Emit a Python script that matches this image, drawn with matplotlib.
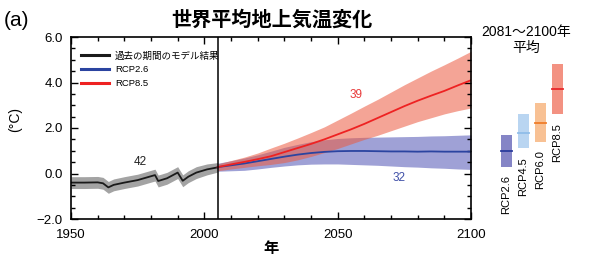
import matplotlib
matplotlib.use("Agg")
import matplotlib.pyplot as plt
from matplotlib.ticker import MultipleLocator

plt.rcParams['font.family'] = ['Liberation Sans', 'Noto Sans CJK JP', 'DejaVu Sans']

# ---- data ----
hist_years = [1950, 1955, 1960, 1962, 1964, 1966, 1970, 1975, 1980, 1981.5, 1982.7,
              1986, 1990, 1991.9, 1994, 1997, 2001, 2005]
hist_mean = [-0.40, -0.40, -0.39, -0.43, -0.61, -0.50, -0.40, -0.29, -0.12, -0.07, -0.33,
             -0.21, 0.04, -0.32, -0.14, 0.04, 0.18, 0.27]
hist_upper = [-0.14, -0.14, -0.13, -0.17, -0.35, -0.24, -0.14, -0.03, 0.14, 0.19, -0.07,
              0.05, 0.30, -0.06, 0.12, 0.30, 0.42, 0.48]
hist_lower = [-0.66, -0.66, -0.65, -0.69, -0.87, -0.76, -0.66, -0.55, -0.38, -0.33, -0.59,
              -0.47, -0.22, -0.58, -0.40, -0.22, -0.06, 0.06]

proj_years = [2005, 2010, 2015, 2020, 2025, 2030, 2035, 2040, 2045, 2050,
              2055, 2060, 2065, 2070, 2075, 2080, 2085, 2090, 2095, 2100]
rcp85_mean = [0.28, 0.40, 0.51, 0.63, 0.76, 0.94, 1.12, 1.30, 1.50, 1.72,
              1.94, 2.18, 2.44, 2.70, 2.96, 3.20, 3.42, 3.63, 3.87, 4.10]
rcp85_upper = [0.42, 0.57, 0.72, 0.90, 1.12, 1.33, 1.56, 1.80, 2.05, 2.35,
               2.65, 2.96, 3.26, 3.58, 3.90, 4.20, 4.50, 4.78, 5.07, 5.37]
rcp85_lower = [0.12, 0.20, 0.27, 0.34, 0.40, 0.48, 0.60, 0.75, 0.92, 1.10,
               1.30, 1.50, 1.68, 1.88, 2.08, 2.28, 2.45, 2.62, 2.76, 2.88]
rcp26_mean = [0.28, 0.36, 0.44, 0.54, 0.64, 0.74, 0.83, 0.90, 0.95, 0.98,
              0.99, 0.99, 0.98, 0.97, 0.97, 0.96, 0.97, 0.96, 0.96, 0.96]
rcp26_upper = [0.45, 0.56, 0.68, 0.82, 0.98, 1.15, 1.28, 1.40, 1.48, 1.54,
               1.57, 1.59, 1.60, 1.61, 1.62, 1.63, 1.65, 1.66, 1.68, 1.70]
rcp26_lower = [0.10, 0.12, 0.14, 0.20, 0.27, 0.33, 0.38, 0.41, 0.42, 0.42,
               0.40, 0.38, 0.36, 0.33, 0.30, 0.28, 0.25, 0.23, 0.20, 0.18]

scen_names = ['RCP2.6', 'RCP4.5', 'RCP6.0', 'RCP8.5']
scen_low = [0.3, 1.1, 1.4, 2.6]
scen_mean = [1.0, 1.8, 2.2, 3.7]
scen_high = [1.7, 2.6, 3.1, 4.8]
scen_fill = ['#8585c6', '#b9d5f1', '#f8c194', '#f39282']
scen_line = ['#2b3c9c', '#8fbde9', '#f07d2a', '#e8282a']

model_counts = ['42', '39', '32']
count_pos_x = [1976, 2057, 2073]
count_pos_y = [0.5, 3.45, -0.2]
count_colors = ['#222222', '#e83a3a', '#4050a8']

W, H = 600, 262
fig = plt.figure(figsize=(W / 100, H / 100), dpi=100)

ax = fig.add_axes([71 / W, 1 - 219 / H, 400 / W, 182 / H])
ax.set_xlim(1950, 2100)
ax.set_ylim(-2, 6)

ax.fill_between(hist_years, hist_lower, hist_upper, color='#a3a3a3', lw=0)
ax.fill_between(proj_years, rcp26_lower, rcp26_upper, color='#9fa1d6', lw=0)
ax.fill_between(proj_years, rcp85_lower, rcp85_upper, color='#ec5a40', alpha=0.55, lw=0)
l1, = ax.plot(hist_years, hist_mean, color='#1a1a1a', lw=1.3)
l2, = ax.plot(proj_years, rcp26_mean, color='#2b44a0', lw=1.3)
l3, = ax.plot(proj_years, rcp85_mean, color='#ee2222', lw=1.3)
ax.axvline(2005, color='black', lw=1.1)

for t, x, y, c in zip(model_counts, count_pos_x, count_pos_y, count_colors):
    ax.text(x, y, t, color=c, fontsize=8.5, ha='center', va='center')

ax.xaxis.set_major_locator(MultipleLocator(50))
ax.xaxis.set_minor_locator(MultipleLocator(10))
ax.yaxis.set_major_locator(MultipleLocator(2))
ax.yaxis.set_minor_locator(MultipleLocator(0.5))
ax.tick_params(which='both', direction='in', top=True, right=True, labelsize=9.5, width=1.0)
ax.tick_params(which='major', length=5)
ax.tick_params(which='minor', length=3)
ax.tick_params(axis='y', pad=6)
ax.tick_params(axis='x', pad=7)
ax.set_yticks([-2, 0, 2, 4, 6])
ax.set_yticklabels(['\u22122.0', '0.0', '2.0', '4.0', '6.0'])
for s in ax.spines.values():
    s.set_linewidth(1.2)

leg = ax.legend([l1, l2, l3], ['過去の期間のモデル結果', 'RCP2.6', 'RCP8.5'],
                loc='upper left', bbox_to_anchor=(0.025, 0.92), frameon=False,
                fontsize=6.8, handlelength=3.0, handletextpad=0.6, labelspacing=0.5,
                borderpad=0, borderaxespad=0)
for h in leg.get_lines():
    h.set_linewidth(2.2)

fig.text(272 / W, 1 - 20 / H, '世界平均地上気温変化', fontsize=14.5, fontweight='semibold',
         ha='center', va='center')
fig.text(4 / W, 1 - 20 / H, '(a)', fontsize=15, ha='left', va='center')
fig.text(15 / W, 1 - 120 / H, '(°C)', fontsize=10, rotation=90, ha='center', va='center')
fig.text(271 / W, 1 - 249 / H, '年', fontsize=11, fontweight='bold', ha='center', va='center')
fig.text(526 / W, 1 - 40 / H, '2081～2100年\n平均', fontsize=10, ha='center', va='center',
         linespacing=1.25)

ax2 = fig.add_axes([498 / W, 1 - 219 / H, 68 / W, 182 / H])
ax2.set_xlim(-0.5, 3.5)
ax2.set_ylim(-2, 6)
ax2.axis('off')
xs = list(range(len(scen_names)))
heights = [h - l for h, l in zip(scen_high, scen_low)]
ax2.bar(xs, heights, bottom=scen_low, width=0.66, color=scen_fill, lw=0)
for x, m, c in zip(xs, scen_mean, scen_line):
    ax2.plot([x - 0.33, x + 0.33], [m, m], color=c, lw=1.3)
for x, l, n in zip(xs, scen_low, scen_names):
    ax2.annotate(n, (x, l), xytext=(0, -6), textcoords='offset points', rotation=90,
                 ha='center', va='top', fontsize=8)

fig.savefig('out.png', dpi=100)
